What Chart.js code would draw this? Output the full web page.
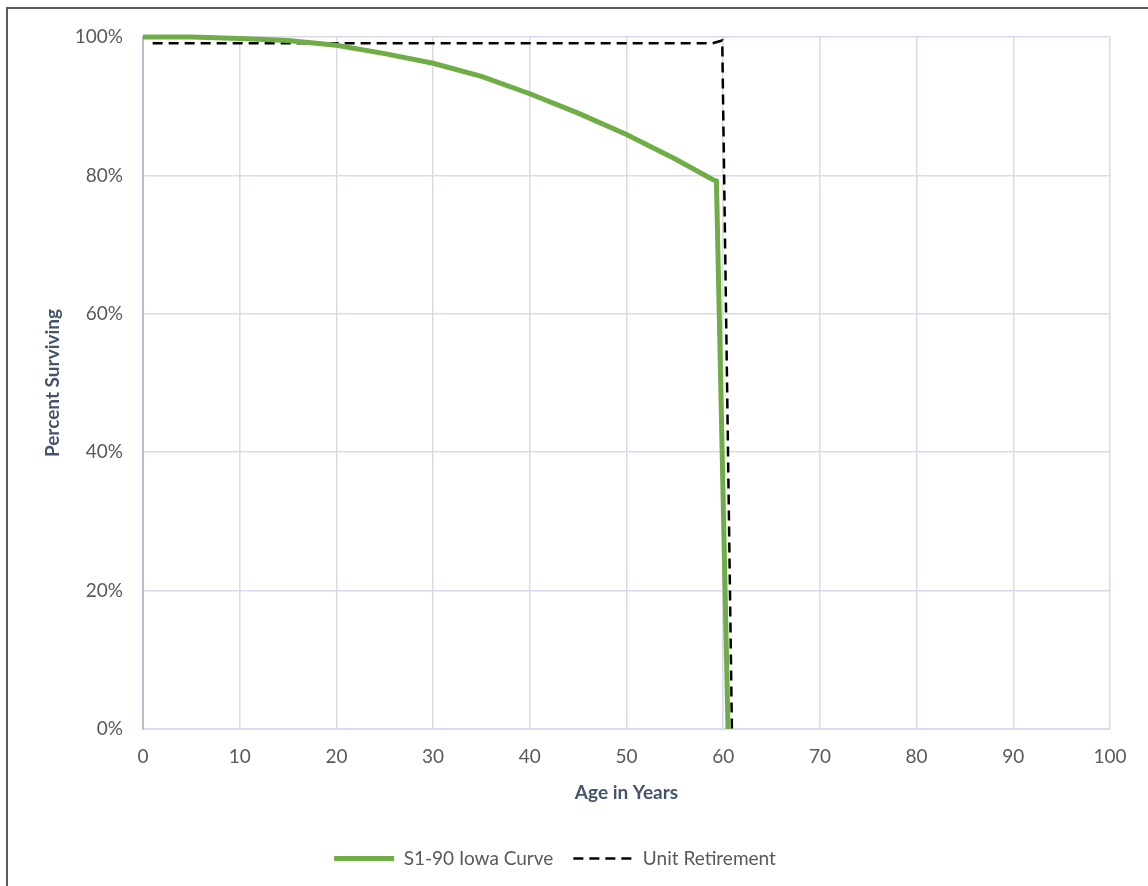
<!DOCTYPE html>
<html>
<head>
<meta charset="utf-8">
<script src="https://cdn.jsdelivr.net/npm/chart.js@4/dist/chart.umd.min.js"></script>
<style>
  html, body { margin: 0; padding: 0; background: #fff; }
  #wrap { position: relative; width: 1148px; height: 886px; }
  #frame {
    position: absolute; left: 6px; top: 7px; right: 0; bottom: 0;
    border-top: 2px solid #5c5c5c; border-left: 2px solid #5c5c5c;
    pointer-events: none;
  }
</style>
</head>
<body>
<div id="wrap">
  <canvas id="chart" width="1148" height="886"></canvas>
  <div id="frame"></div>
</div>
<script>
// ── Data ──────────────────────────────────────────────────────────
const iowaAges = [0, 5, 10, 15, 20, 25, 30, 35, 40, 45, 50, 55, 58.9, 59.3, 60.5];
const iowaSurviving = [100, 100, 99.8, 99.5, 98.8, 97.6, 96.2, 94.3, 91.8, 89.0, 85.9, 82.4, 79.4, 79.2, 0];

const retireAges = [1, 58.9, 59.9, 60.9];
const retireSurviving = [99.1, 99.1, 99.5, 0];

const seriesLabels = ['S1-90 Iowa Curve', 'Unit Retirement'];

const FONT = 'Lato, "Open Sans", sans-serif';
const TICK_COLOR = '#595959';
const TITLE_COLOR = '#44546a';
const GRID_COLOR = '#d9dce8';

const toXY = (xs, ys) => xs.map((x, i) => ({ x, y: ys[i] }));

const ctx = document.getElementById('chart').getContext('2d');

new Chart(ctx, {
  type: 'line',
  data: {
    datasets: [{
      label: seriesLabels[0],
      data: toXY(iowaAges, iowaSurviving),
      borderColor: '#70ad47',
      borderWidth: 5,
      pointRadius: 0,
      tension: 0,
      clip: 6,
    }, {
      label: seriesLabels[1],
      data: toXY(retireAges, retireSurviving),
      borderColor: '#000000',
      borderWidth: 2.5,
      borderDash: [10, 6],
      pointRadius: 0,
      tension: 0,
      clip: 6,
    }],
  },
  options: {
    responsive: false,
    animation: false,
    layout: { padding: { left: 0, right: 38, top: 37, bottom: 8 } },
    scales: {
      x: {
        type: 'linear',
        min: 0,
        max: 100,
        ticks: {
          stepSize: 10,
          color: TICK_COLOR,
          font: { family: FONT, size: 19 },
          padding: 16,
          maxRotation: 0,
        },
        grid: { color: GRID_COLOR, lineWidth: 1.5, drawTicks: false },
        border: { color: GRID_COLOR, width: 2 },
        title: {
          display: true,
          text: 'Age in Years',
          color: TITLE_COLOR,
          font: { family: FONT, size: 19, weight: 'bold' },
          padding: { top: 0, bottom: 25 },
        },
        afterFit: (scale) => { scale.height = 100; },
      },
      y: {
        min: 0,
        max: 100,
        ticks: {
          stepSize: 20,
          color: TICK_COLOR,
          font: { family: FONT, size: 19 },
          padding: 20,
          callback: (v) => v + '%',
        },
        grid: { color: GRID_COLOR, lineWidth: 1.5, drawTicks: false },
        border: { color: '#b4bccc', width: 2 },
        title: {
          display: true,
          text: 'Percent Surviving',
          color: TITLE_COLOR,
          font: { family: FONT, size: 19, weight: 'bold' },
          padding: { top: 41, bottom: 0 },
        },
        afterFit: (scale) => { scale.width = 143; },
      },
    },
    plugins: {
      legend: {
        position: 'bottom',
        labels: {
          color: TICK_COLOR,
          font: { family: FONT, size: 19 },
          usePointStyle: true,
          pointStyleWidth: 60,
          padding: 20,
          generateLabels: (chart) => chart.data.datasets.map((ds, i) => ({
            text: ds.label,
            datasetIndex: i,
            fillStyle: ds.borderColor,
            strokeStyle: ds.borderColor,
            lineWidth: ds.borderWidth,
            lineDash: ds.borderDash || [],
            pointStyle: 'line',
            fontColor: TICK_COLOR,
            hidden: false,
          })),
        },
      },
      tooltip: { enabled: false },
    },
  },
});
</script>
</body>
</html>
